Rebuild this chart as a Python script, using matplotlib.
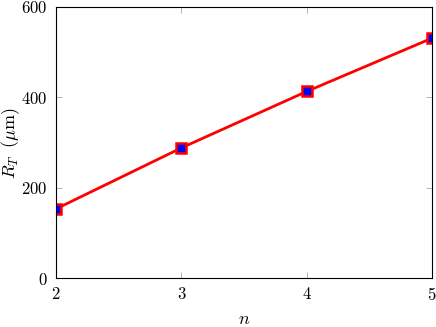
import matplotlib
matplotlib.use("Agg")
import matplotlib.pyplot as plt

n = [2, 3, 4, 5]
r_t = [153, 288, 413, 531]

plt.rcParams["font.family"] = "serif"
plt.rcParams["font.serif"] = ["cmr10"]
plt.rcParams["mathtext.fontset"] = "cm"
plt.rcParams["axes.formatter.use_mathtext"] = True

fig = plt.figure(figsize=(4.36, 3.27), dpi=100)
ax = fig.add_axes([0.1284, 0.1498, 0.8624, 0.8288])
ax.plot(n, r_t, color="red", linewidth=2.0, marker="s", markersize=6.5,
        markerfacecolor="blue", markeredgecolor="red", markeredgewidth=1.8)

ax.set_xlim(2, 5)
ax.set_ylim(0, 600)
ax.set_xticks([2, 3, 4, 5])
ax.set_yticks([0, 200, 400, 600])
ax.tick_params(direction="in", length=4, width=0.5, color="#999999",
               labelsize=12, pad=6, top=True, right=True)
for s in ax.spines.values():
    s.set_linewidth(0.8)
ax.set_xlabel(r"$n$", fontsize=13)
ax.set_ylabel(r"$R_T\;\ (\mu\mathrm{m})$", fontsize=13)
ax.xaxis.set_label_coords(0.5, -0.125)
ax.yaxis.set_label_coords(-0.09, 0.5)

fig.savefig("out.png", dpi=100)
